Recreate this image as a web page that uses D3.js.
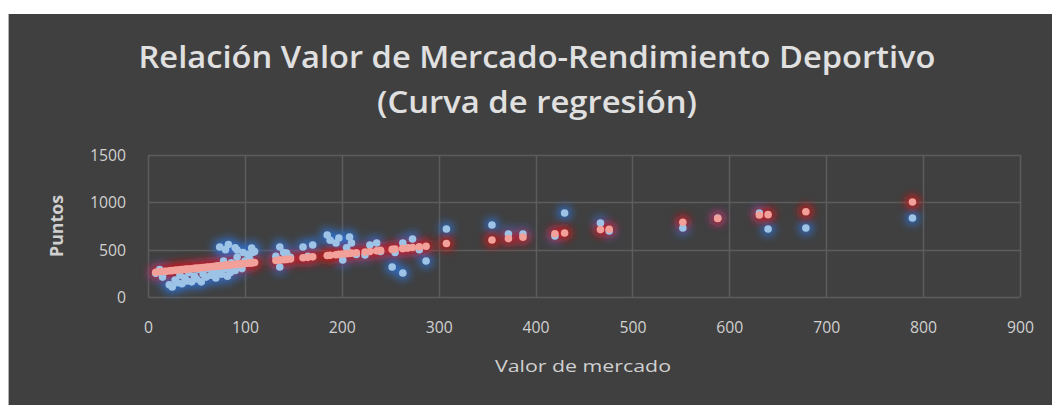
<!DOCTYPE html>
<html><head><meta charset="utf-8">
<script src="https://cdnjs.cloudflare.com/ajax/libs/d3/7.8.5/d3.min.js"></script>
<style>html,body{margin:0;padding:0;background:#fff;}svg{display:block;}</style>
</head><body>
<script>
const titleLines = ["Relación Valor de Mercado-Rendimiento Deportivo", "(Curva de regresión)"];
const xLabel = "Valor de mercado";
const yLabel = "Puntos";
const xTicks = [0,100,200,300,400,500,600,700,800,900];
const yTicks = [0,500,1000,1500];

// Market value (x) of each player
const marketValue = [8,12,15,18,22,25,28,30,33,35,38,40,42,45,48,50,52,55,57,60,62,65,68,70,72,74,76,78,80,82,85,86,88,90,92,95,97,100,103,105,108,
  74,80,83,90,92,98,107,110,
  132,136,136,140,143,147,160,165,170,185,188,194,197,201,205,208,210,215,224,229,236,240,252,255,263,263,268,273,280,287,
  308,355,372,387,420,430,467,476,552,588,631,640,679,789];
// Actual points (blue)
const actualPoints = [250,290,210,270,130,105,180,150,230,140,200,170,260,160,220,190,290,160,240,210,300,230,260,200,330,270,240,380,300,220,260,360,330,280,420,340,300,380,450,400,470,
  528,500,555,520,496,470,517,480,
  430,528,317,470,465,420,528,430,549,655,600,570,623,391,520,634,570,450,443,549,570,480,317,470,253,570,520,612,500,380,
  718,760,665,665,644,887,781,697,729,834,887,718,729,834];
// Regression curve points (red)
const predictedPoints = [262,268,270,272,276,279,282,284,287,289,292,294,296,299,302,304,306,309,311,314,316,319,322,324,326,328,330,332,334,336,339,340,342,344,346,349,351,354,357,359,362,
  328,334,337,344,346,352,361,364,
  386,390,390,394,397,401,414,419,424,438,441,447,450,454,458,461,463,468,476,481,488,492,503,506,513,513,518,523,529,536,
  565,602,617,632,668,676,712,716,790,830,866,870,900,1003];

const W = 1052, H = 405;
const FONT = "'Open Sans','Liberation Sans',sans-serif";
const svg = d3.select("body").append("svg").attr("width", W).attr("height", H);

const defs = svg.append("defs");
const f = defs.append("filter").attr("id","glow").attr("x","-100%").attr("y","-100%").attr("width","300%").attr("height","300%");
f.append("feGaussianBlur").attr("stdDeviation", 4);

svg.append("rect").attr("x",8).attr("y",14).attr("width",W-8).attr("height",H-14).attr("fill","#404040");
svg.append("line").attr("x1",8.5).attr("x2",8.5).attr("y1",14).attr("y2",H).attr("stroke","#b0b0b0").attr("stroke-width",1);

const x = d3.scaleLinear().domain([0,900]).range([148,1020]);
const y = d3.scaleLinear().domain([0,1500]).range([297,155]);

// gridlines
const grid = svg.append("g");
grid.selectAll("line.v").data(xTicks).join("line")
  .attr("x1", d=>Math.round(x(d))+0.5).attr("x2", d=>Math.round(x(d))+0.5)
  .attr("y1", y(1500)).attr("y2", y(0))
  .attr("stroke","#5c5c5c").attr("stroke-width",1.5);
grid.selectAll("line.h").data(yTicks).join("line")
  .attr("y1", d=>Math.round(y(d))+0.5).attr("y2", d=>Math.round(y(d))+0.5)
  .attr("x1", x(0)).attr("x2", x(900))
  .attr("stroke","#5c5c5c").attr("stroke-width",1.5);

// axes (labels only)
const fmt = d3.format("d");
const xAxis = d3.axisBottom(x).tickValues(xTicks).tickFormat(fmt).tickSize(0).tickPadding(0);
const gx = svg.append("g").attr("transform", `translate(0,${y(0)+36})`).call(xAxis);
gx.select(".domain").remove();
gx.selectAll("text").attr("fill","#d0d0d0").attr("font-size",16).attr("font-family",FONT).attr("dy","0")
  .attr("textLength", d => d === 0 ? 9 : 27).attr("lengthAdjust","spacingAndGlyphs");

const yAxis = d3.axisLeft(y).tickValues(yTicks).tickFormat(fmt).tickSize(0).tickPadding(0);
const gy = svg.append("g").attr("transform", `translate(${x(0)-22},0)`).call(yAxis);
gy.select(".domain").remove();
gy.selectAll("text").attr("fill","#d0d0d0").attr("font-size",16).attr("font-family",FONT).attr("dy","0.35em")
  .attr("textLength", d => d === 0 ? 9 : (d < 1000 ? 27 : 36)).attr("lengthAdjust","spacingAndGlyphs");

// title
const tl = svg.append("g").attr("fill","#e0e0e0").attr("font-family",FONT).attr("font-weight",600).attr("font-size",30).attr("text-anchor","middle");
tl.append("text").attr("x",537).attr("y",68).attr("textLength",797).attr("lengthAdjust","spacingAndGlyphs").text(titleLines[0]);
tl.append("text").attr("x",537).attr("y",113).attr("textLength",320).attr("lengthAdjust","spacingAndGlyphs").text(titleLines[1]);

svg.append("text").attr("x",583).attr("y",372).attr("text-anchor","middle").attr("fill","#d0d0d0")
  .attr("font-family",FONT).attr("font-size",17).attr("textLength",176).attr("lengthAdjust","spacingAndGlyphs").text(xLabel);
svg.append("text").attr("transform","translate(63,226) rotate(-90)").attr("text-anchor","middle").attr("fill","#d0d0d0")
  .attr("font-family",FONT).attr("font-weight","bold").attr("font-size",17).attr("textLength",62).attr("lengthAdjust","spacingAndGlyphs").text(yLabel);

const idx = d3.range(marketValue.length);
// glows
svg.append("g").attr("filter","url(#glow)").selectAll("circle").data(idx).join("circle")
  .attr("cx", i=>x(marketValue[i])).attr("cy", i=>y(actualPoints[i])).attr("r",7).attr("fill","#2f6fc8").attr("opacity",0.95);
svg.append("g").attr("filter","url(#glow)").selectAll("circle").data(idx).join("circle")
  .attr("cx", i=>x(marketValue[i])).attr("cy", i=>y(predictedPoints[i])).attr("r",7).attr("fill","#d01818").attr("opacity",0.95);
// markers
svg.append("g").selectAll("circle").data(idx).join("circle")
  .attr("cx", i=>x(marketValue[i])).attr("cy", i=>y(actualPoints[i])).attr("r",3.8).attr("fill","#9dc3e6");
svg.append("g").selectAll("circle").data(idx).join("circle")
  .attr("cx", i=>x(marketValue[i])).attr("cy", i=>y(predictedPoints[i])).attr("r",3.8).attr("fill","#f2a09a");
</script>
</body></html>
